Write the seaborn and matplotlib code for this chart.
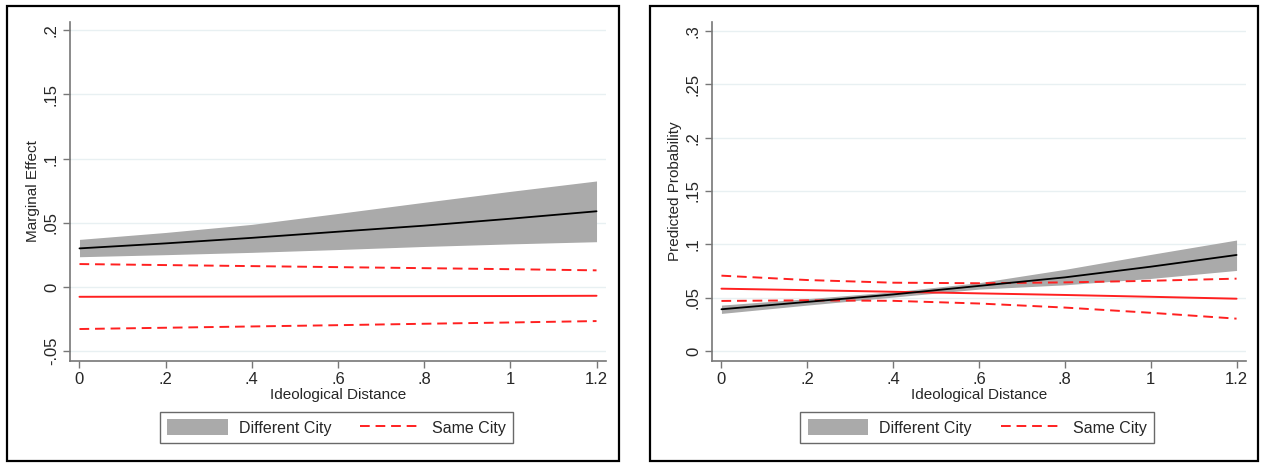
import numpy as np
import pandas as pd
import matplotlib
matplotlib.use("Agg")
import matplotlib.pyplot as plt
from matplotlib.patches import Patch, Rectangle
from matplotlib.lines import Line2D
import seaborn as sns

# Ideological distance grid used for the margins
distance = [0.0, 0.2, 0.4, 0.6, 0.8, 1.0, 1.2]

# Left panel: marginal effect
me_diff = [0.0301, 0.0340, 0.0383, 0.0431, 0.0478, 0.0532, 0.0590]
me_diff_hi = [0.0371, 0.0425, 0.0488, 0.0573, 0.0660, 0.0745, 0.0826]
me_diff_lo = [0.0236, 0.0252, 0.0270, 0.0292, 0.0316, 0.0336, 0.0353]
me_same = [-0.0076, -0.0075, -0.0074, -0.0072, -0.0071, -0.0070, -0.0068]
me_same_hi = [0.0179, 0.0171, 0.0163, 0.0155, 0.0147, 0.0139, 0.0130]
me_same_lo = [-0.0327, -0.0317, -0.0307, -0.0297, -0.0286, -0.0276, -0.0265]

# Right panel: predicted probability
pp_diff = [0.0391, 0.0460, 0.0530, 0.0610, 0.0690, 0.0790, 0.0900]
pp_diff_hi = [0.0430, 0.0490, 0.0555, 0.0640, 0.0765, 0.0905, 0.1040]
pp_diff_lo = [0.0352, 0.0430, 0.0505, 0.0580, 0.0620, 0.0680, 0.0755]
pp_same = [0.0584, 0.0570, 0.0555, 0.0540, 0.0525, 0.0508, 0.0490]
pp_same_hi = [0.0706, 0.0665, 0.0640, 0.0635, 0.0643, 0.0658, 0.0678]
pp_same_lo = [0.0469, 0.0475, 0.0470, 0.0445, 0.0407, 0.0358, 0.0303]

left_yticks = [-0.05, 0.0, 0.05, 0.10, 0.15, 0.20]
left_ylabels = ["-.05", "0", ".05", ".1", ".15", ".2"]
right_yticks = [0.0, 0.05, 0.10, 0.15, 0.20, 0.25, 0.30]
right_ylabels = ["0", ".05", ".1", ".15", ".2", ".25", ".3"]
xticks = [0.0, 0.2, 0.4, 0.6, 0.8, 1.0, 1.2]
xlabels = ["0", ".2", ".4", ".6", ".8", "1", "1.2"]

sns.set_theme(style="white")
plt.rcParams["font.family"] = ["Liberation Sans", "DejaVu Sans"]

W, H = 1263, 463
fig = plt.figure(figsize=(W / 100, H / 100), dpi=100)

BAND = "#aaaaaa"
RED = "#ff2020"
GRID = "#e8f0f2"
SPINE = "#777777"
FS = 11
TFS = 12
DASH = [5, 3]


def px_axes(x0, y0, x1, y1):
    return fig.add_axes([x0 / W, 1 - y1 / H, (x1 - x0) / W, (y1 - y0) / H])


def panel(ax, mid, hi, lo, s_mid, s_hi, s_lo, yticks, ylabels, ylim, ylabel):
    df = pd.DataFrame({"x": distance, "mid": mid, "s_mid": s_mid,
                       "s_hi": s_hi, "s_lo": s_lo})
    for yv in yticks:
        ax.axhline(yv, color=GRID, lw=1.0, zorder=0)
    ax.fill_between(distance, lo, hi, color=BAND, lw=0, zorder=1)
    sns.lineplot(data=df, x="x", y="mid", ax=ax, color="black", lw=1.3, zorder=3)
    sns.lineplot(data=df, x="x", y="s_mid", ax=ax, color=RED, lw=1.4, zorder=2)
    for col in ("s_hi", "s_lo"):
        sns.lineplot(data=df, x="x", y=col, ax=ax, color=RED, lw=1.4,
                     dashes=False, zorder=2).lines[-1].set_dashes(DASH)
    ax.set_xlim(-0.022, 1.222)
    ax.set_ylim(*ylim)
    ax.set_xticks(xticks)
    ax.set_xticklabels(xlabels, fontsize=TFS)
    ax.set_yticks(yticks)
    ax.set_yticklabels(ylabels, fontsize=TFS, rotation=90, va="center")
    ax.set_xlabel("Ideological Distance", fontsize=FS, labelpad=1)
    ax.set_ylabel(ylabel, fontsize=FS, labelpad=3)
    ax.tick_params(axis="both", which="both", direction="out", length=5,
                   width=1, color=SPINE, pad=3, bottom=True, left=True)
    for side in ("top", "right"):
        ax.spines[side].set_visible(False)
    for side in ("left", "bottom"):
        ax.spines[side].set_color(SPINE)
        ax.spines[side].set_linewidth(1.2)
    ax.grid(False)


ax1 = px_axes(70, 22, 606, 361)
panel(ax1, me_diff, me_diff_hi, me_diff_lo, me_same, me_same_hi, me_same_lo,
      left_yticks, left_ylabels, (-0.0576, 0.2064), "Marginal Effect")

ax2 = px_axes(712, 22, 1246, 361)
panel(ax2, pp_diff, pp_diff_hi, pp_diff_lo, pp_same, pp_same_hi, pp_same_lo,
      right_yticks, right_ylabels, (-0.0094, 0.3084), "Predicted Probability")

# Outer frames around each graph
for (x0, x1) in ((7, 619), (650, 1258)):
    fig.patches.append(Rectangle((x0 / W, 1 - 461 / H), (x1 - x0) / W,
                                 (461 - 6) / H, transform=fig.transFigure,
                                 fill=False, edgecolor="black", lw=1.6))

handles = [Patch(facecolor=BAND, edgecolor="none"),
           Line2D([], [], color=RED, lw=1.4, dashes=DASH)]
labels = ["Different City", "Same City"]
for cx in (336.5 / W, 977 / W):
    leg = fig.legend(handles, labels, loc="center", bbox_to_anchor=(cx, 1 - 427.5 / H),
                     ncol=2, fontsize=11.5, frameon=True, fancybox=False,
                     handlelength=3.8, handleheight=1.1, handletextpad=0.7,
                     columnspacing=1.8, borderpad=0.45)
    leg.get_frame().set_edgecolor("#444444")
    leg.get_frame().set_linewidth(1.0)

fig.savefig("out.png", dpi=100, facecolor="white")
